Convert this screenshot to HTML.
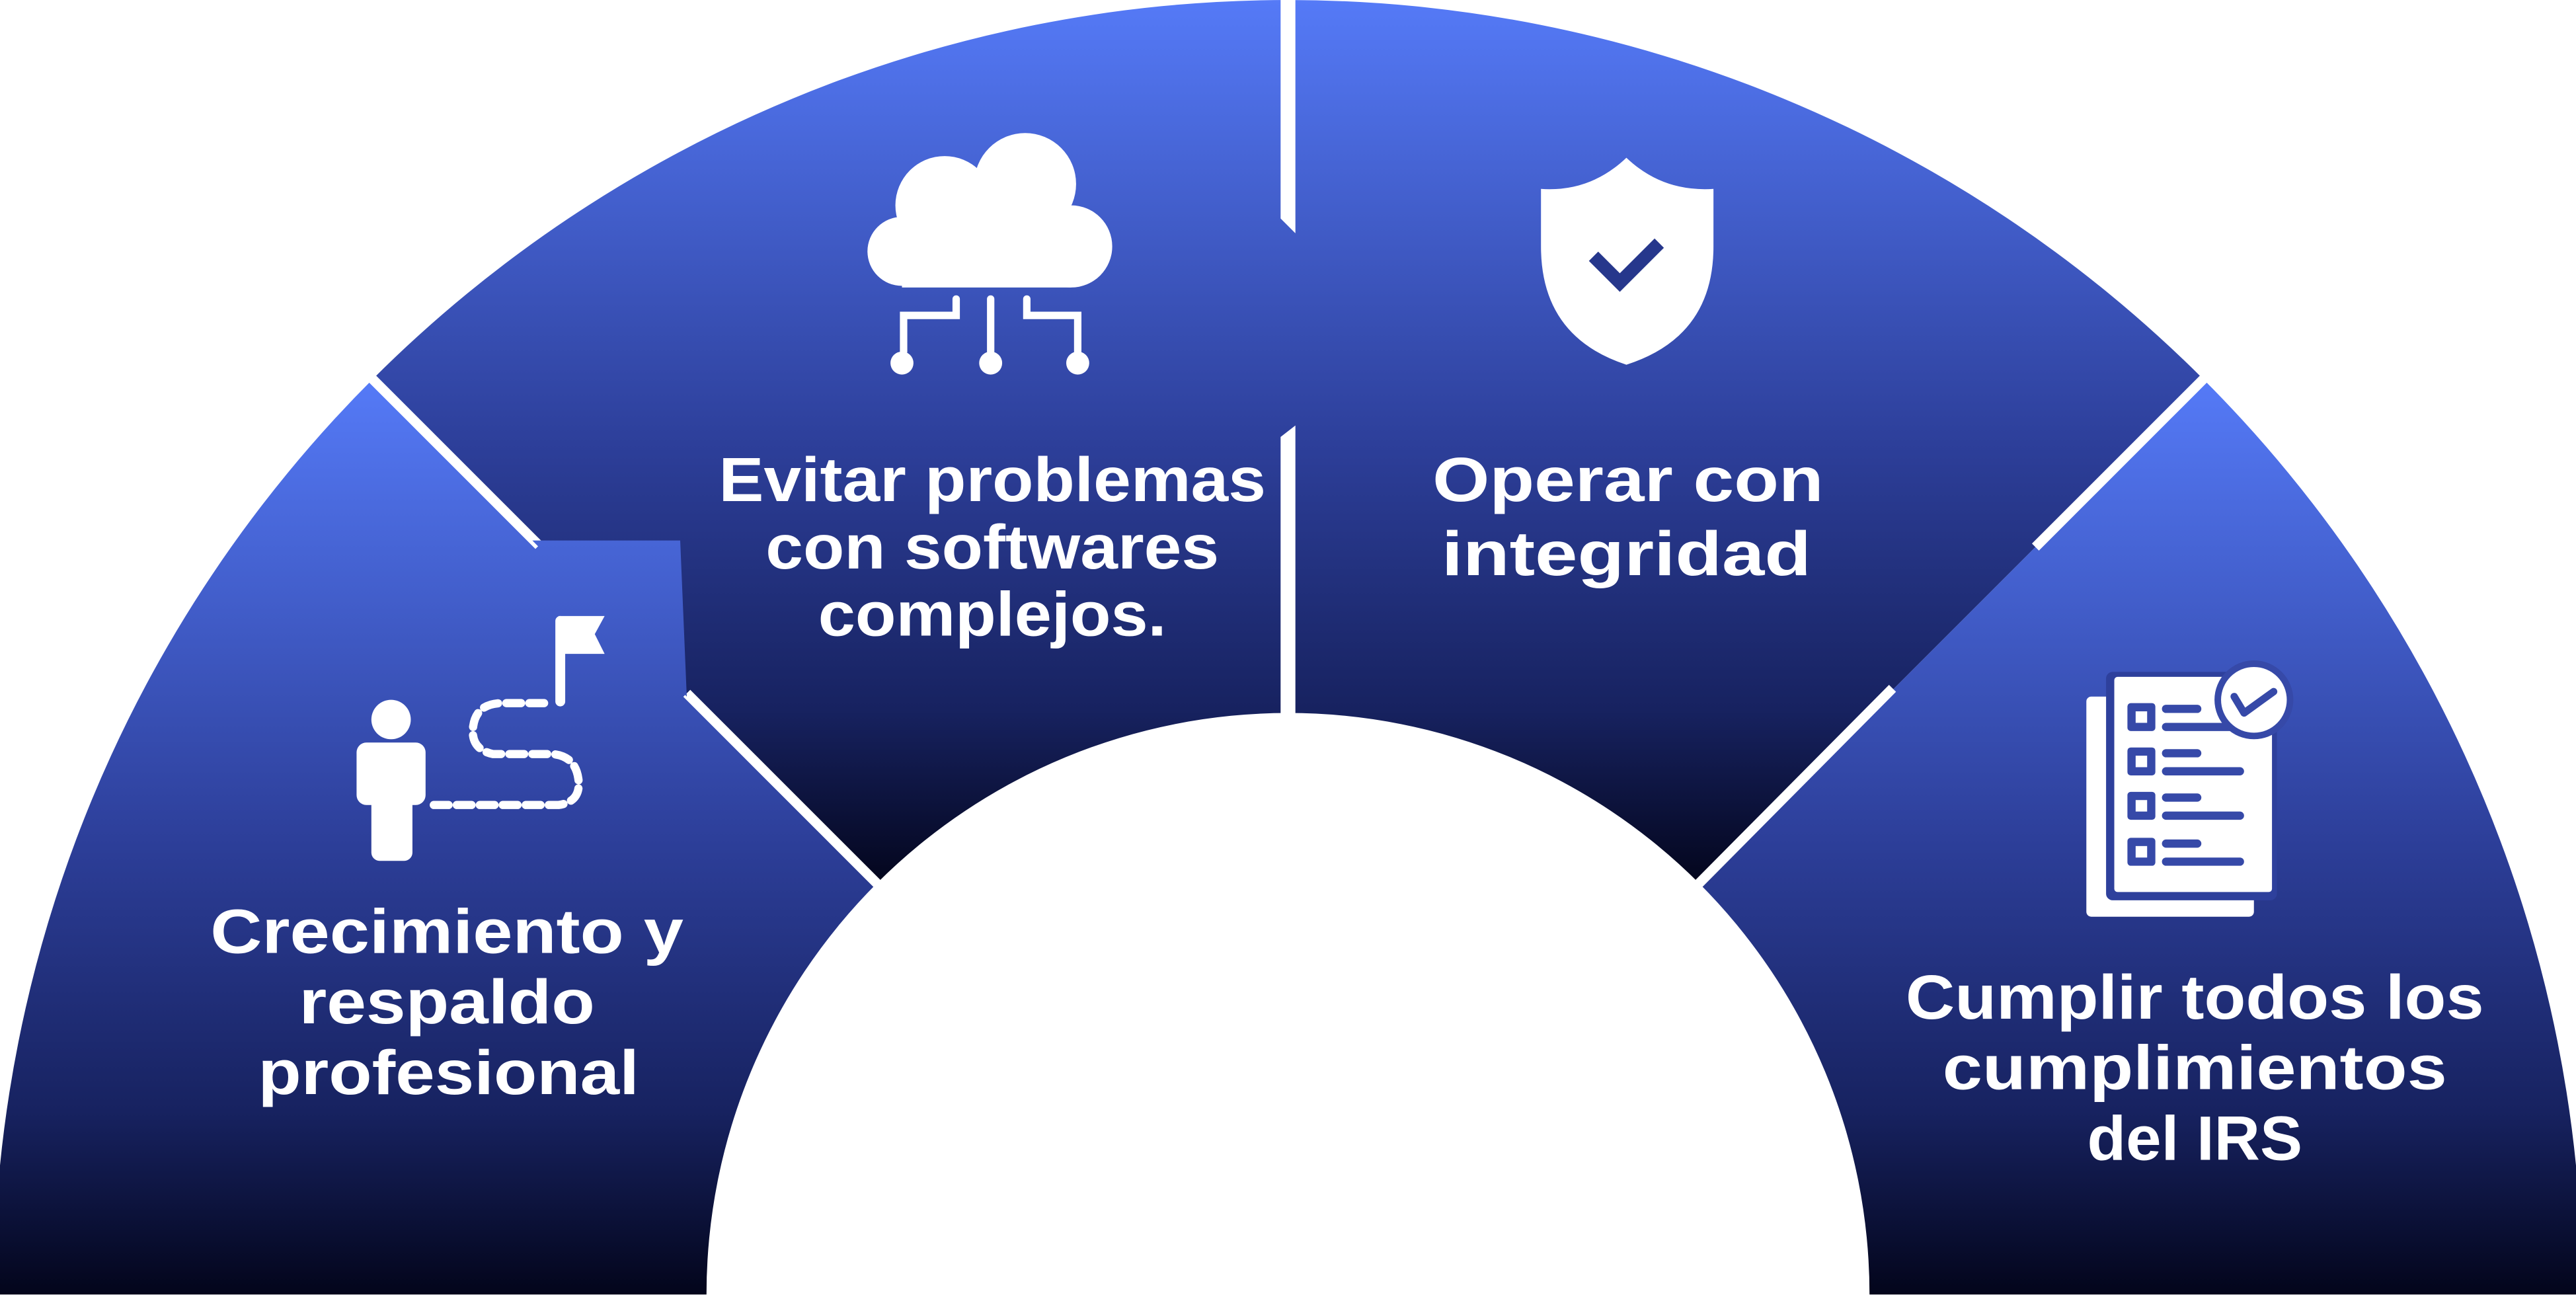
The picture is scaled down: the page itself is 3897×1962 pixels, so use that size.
<!DOCTYPE html>
<html><head><meta charset="utf-8"><style>
html,body{margin:0;padding:0;background:#fff;}
svg{display:block;}
text{font-family:"Liberation Sans",sans-serif;font-weight:bold;fill:#fff;font-size:38px;text-anchor:middle;}
</style></head><body>
<svg width="3897" height="1962" viewBox="0 0 1568 789.5" xmlns="http://www.w3.org/2000/svg">
<defs>
<linearGradient id="gS" gradientUnits="userSpaceOnUse" x1="0" y1="232" x2="0" y2="788">
<stop offset="0" stop-color="#557af7"/><stop offset="0.5" stop-color="#2d3f9a"/><stop offset="0.8" stop-color="#172260"/><stop offset="1" stop-color="#03051b"/></linearGradient>
<linearGradient id="gT" gradientUnits="userSpaceOnUse" x1="0" y1="0" x2="0" y2="540">
<stop offset="0" stop-color="#557af7"/><stop offset="0.5" stop-color="#2d3f9a"/><stop offset="0.8" stop-color="#172260"/><stop offset="1" stop-color="#03051b"/></linearGradient>
</defs>
<path d="M-4,788 A788 788 0 0 1 226.8,230.8 L533.7,537.7 A354 354 0 0 0 430,788 Z" fill="url(#gS)"/>
<path d="M226.8,230.8 A788 788 0 0 1 784,0 L784,434 A354 354 0 0 0 533.7,537.7 Z" fill="url(#gT)"/>
<path d="M784,0 A788 788 0 0 1 1341.2,230.8 L1034.3,537.7 A354 354 0 0 0 784,434 Z" fill="url(#gT)"/>
<path d="M1341.2,230.8 A788 788 0 0 1 1572,788 L1138,788 A354 354 0 0 0 1034.3,537.7 Z" fill="url(#gS)"/>
<g stroke="#fff" stroke-width="6">
<line x1="200" y1="204" x2="328" y2="332"/>
<line x1="418" y1="422" x2="545" y2="549"/>
<line x1="1368" y1="204" x2="1239" y2="333"/>
<line x1="1152" y1="419" x2="1023" y2="549"/>
</g>
<polygon points="779.5,-2 788.5,-2 788.5,142 779.5,133" fill="#fff"/>
<polygon points="779.5,266 788.5,259 788.5,445 779.5,445" fill="#fff"/>
<polygon points="324,329 414,329 418,424" fill="url(#gS)"/>

<g fill="#fff">
<circle cx="549" cy="153" r="21"/><circle cx="575" cy="125" r="30"/><circle cx="624" cy="112" r="31"/><circle cx="652" cy="150" r="25"/>
<rect x="549" y="130" width="103" height="45"/>
<circle cx="549" cy="221" r="7"/><circle cx="603" cy="221" r="7"/><circle cx="656" cy="221" r="7"/>
</g>
<g stroke="#fff" stroke-width="4.5" fill="none" stroke-linecap="round">
<path d="M603,182 V214"/><path d="M582,182 V192 H550 V214"/><path d="M625,182 V192 H656 V214"/>
</g>
<path d="M938,115 Q968,117 990,96 Q1012,117 1043,115 L1043,150 Q1043,205 990,222 Q938,205 938,150 Z" fill="#fff"/>
<polyline points="970,156 986,172 1010,148" fill="none" stroke="#26378c" stroke-width="8"/>
<g fill="#fff">
<circle cx="238" cy="438" r="12"/>
<rect x="217" y="452" width="42" height="38" rx="6"/>
<rect x="226" y="470" width="25" height="54" rx="5"/>
<rect x="338" y="375" width="6" height="55" rx="3"/>
<path d="M340,375 H368 L362,386 L368,398 H340 Z"/>
</g>
<path d="M264,490 H340 Q354,488 352,474 Q350,460 336,459 H300 Q286,456 288,442 Q290,428 306,428 H336" fill="none" stroke="#fff" stroke-width="5" stroke-dasharray="9 5" stroke-linecap="round"/>
<rect x="1270" y="424" width="102" height="134" rx="3" fill="#fff"/>
<rect x="1282" y="409" width="104" height="139" rx="4" fill="#2e409c"/>
<rect x="1287" y="412" width="96" height="131" rx="2" fill="#fff"/>
<g fill="#3649a8">
<rect x="1295" y="428" width="17" height="17" rx="2"/><rect x="1295" y="455" width="17" height="17" rx="2"/><rect x="1295" y="482" width="17" height="17" rx="2"/><rect x="1295" y="510" width="17" height="17" rx="2"/>
<rect x="1316" y="429" width="24" height="5" rx="2.5"/><rect x="1316" y="440" width="50" height="5" rx="2.5"/>
<rect x="1316" y="456" width="24" height="5" rx="2.5"/><rect x="1316" y="467" width="50" height="5" rx="2.5"/>
<rect x="1316" y="483" width="24" height="5" rx="2.5"/><rect x="1316" y="494" width="50" height="5" rx="2.5"/>
<rect x="1316" y="511" width="24" height="5" rx="2.5"/><rect x="1316" y="522" width="50" height="5" rx="2.5"/>
</g>
<g fill="#fff"><rect x="1300" y="433" width="7" height="7"/><rect x="1300" y="460" width="7" height="7"/><rect x="1300" y="487" width="7" height="7"/><rect x="1300" y="515" width="7" height="7"/></g>
<circle cx="1372" cy="426" r="24" fill="#3649a8"/>
<circle cx="1372" cy="426" r="20" fill="#fff"/>
<polyline points="1360,424 1366,434 1384,421" fill="none" stroke="#3649a8" stroke-width="4.5" stroke-linecap="round" stroke-linejoin="round"/>

<text x="604" y="305" textLength="333" lengthAdjust="spacingAndGlyphs">Evitar problemas</text>
<text x="604" y="346" textLength="276" lengthAdjust="spacingAndGlyphs">con softwares</text>
<text x="604" y="387" textLength="212" lengthAdjust="spacingAndGlyphs">complejos.</text>
<text x="991" y="305" textLength="238" lengthAdjust="spacingAndGlyphs">Operar con</text>
<text x="990" y="350" textLength="225" lengthAdjust="spacingAndGlyphs">integridad</text>
<text x="272" y="580" textLength="288" lengthAdjust="spacingAndGlyphs">Crecimiento y</text>
<text x="272" y="623" textLength="180" lengthAdjust="spacingAndGlyphs">respaldo</text>
<text x="273" y="666" textLength="232" lengthAdjust="spacingAndGlyphs">profesional</text>
<text x="1336" y="620" textLength="352" lengthAdjust="spacingAndGlyphs">Cumplir todos los</text>
<text x="1336" y="663" textLength="307" lengthAdjust="spacingAndGlyphs">cumplimientos</text>
<text x="1336" y="706" textLength="131" lengthAdjust="spacingAndGlyphs">del IRS</text>
</svg>
</body></html>
